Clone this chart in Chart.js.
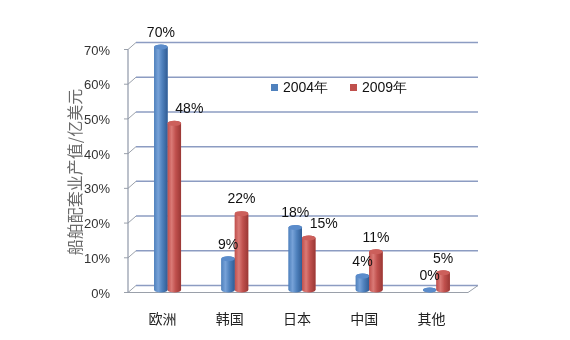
<!DOCTYPE html>
<html>
<head>
<meta charset="utf-8">
<script src="https://cdn.jsdelivr.net/npm/chart.js@4.4.1/dist/chart.umd.min.js"></script>
<style>
  html, body { margin: 0; padding: 0; background: #fff; }
  #wrap { width: 570px; height: 340px; }
</style>
</head>
<body>
<div id="wrap"><canvas id="chart"></canvas></div>
<script>
const regions = ['欧洲', '韩国', '日本', '中国', '其他'];
const share2004 = [70, 9, 18, 4, 0];
const share2009 = [48, 22, 15, 11, 5];
const seriesNames = ['2004年', '2009年'];
const yTicks = [0, 10, 20, 30, 40, 50, 60, 70];
const yTitle = '船舶配套业产值/亿美元';

// cylinder shading per series
const palettes = [
    { base: '#4f81bd', light: '#77a2d8', dark: '#305c94', cap: '#5b8ccb' },
    { base: '#c0504d', light: '#da7a76', dark: '#9a3835', cap: '#cc5f5b' },
];

const latin = 'Arial, "Liberation Sans", sans-serif';
const cjk = '"Noto Sans CJK SC", sans-serif';

// back wall, floor and front axis of the pseudo 3D box
const wallPlugin = {
    id: 'wall3d',
    beforeDatasetsDraw(chart) {
        const { ctx, chartArea: ca } = chart;
        const y = chart.scales.y;
        const axisX = ca.left - 6;
        const dx = 8, dy = 7;
        ctx.save();
        yTicks.forEach(v => {
            const front = y.getPixelForValue(v) + 2.5;
            const back = front - dy;
            ctx.lineWidth = 1.5;
            ctx.strokeStyle = '#8c9cc2';
            ctx.beginPath();
            ctx.moveTo(axisX + dx, back);
            ctx.lineTo(ca.right + 8, back);
            ctx.stroke();
            ctx.lineWidth = 1;
            ctx.strokeStyle = '#9aa0aa';
            ctx.beginPath();
            ctx.moveTo(axisX, front);
            ctx.lineTo(axisX + dx, back);
            ctx.stroke();
            // small tick left of the axis
            ctx.beginPath();
            ctx.moveTo(axisX - 4, front);
            ctx.lineTo(axisX, front);
            ctx.stroke();
            if (v === 0) {
                ctx.beginPath();
                ctx.moveTo(axisX, front);
                ctx.lineTo(ca.right - 2, front);
                ctx.lineTo(ca.right + 8, back);
                ctx.stroke();
            }
        });
        ctx.strokeStyle = '#8f98a8';
        ctx.lineWidth = 1.2;
        ctx.beginPath();
        ctx.moveTo(axisX, y.getPixelForValue(0) + 2.5);
        ctx.lineTo(axisX, y.getPixelForValue(70) + 2.5);
        ctx.stroke();
        ctx.restore();
    },
    afterDatasetsDraw(chart) {
        const { ctx } = chart;
        ctx.save();
        chart.data.datasets.forEach((ds, di) => {
            const pal = palettes[di];
            chart.getDatasetMeta(di).data.forEach(bar => {
                const { x, y: top, base, width } = bar.getProps(['x', 'y', 'base', 'width'], true);
                const l = x - width / 2, r = x + width / 2, rx = width / 2, ry = 2.5;
                const g = ctx.createLinearGradient(l, 0, r, 0);
                g.addColorStop(0, pal.base);
                g.addColorStop(0.3, pal.light);
                g.addColorStop(0.6, pal.base);
                g.addColorStop(1, pal.dark);
                ctx.fillStyle = g;
                ctx.beginPath();
                ctx.moveTo(l, top);
                ctx.lineTo(l, base);
                ctx.ellipse(x, base, rx, ry, 0, Math.PI, 0, true);
                ctx.lineTo(r, top);
                ctx.ellipse(x, top, rx, ry, 0, 0, Math.PI, true);
                ctx.closePath();
                ctx.fill();
                ctx.fillStyle = pal.cap;
                ctx.beginPath();
                ctx.ellipse(x, top, rx, ry, 0, 0, Math.PI * 2);
                ctx.fill();
            });
        });

        // value labels; a 2009 label steps aside when the 2004 bar beside it is taller
        ctx.fillStyle = '#111';
        ctx.font = '14px ' + latin;
        ctx.textAlign = 'center';
        ctx.textBaseline = 'middle';
        chart.data.datasets.forEach((ds, di) => {
            chart.getDatasetMeta(di).data.forEach((bar, i) => {
                let shift = 0;
                if (di === 1 && share2004[i] > share2009[i]) shift = 15;
                ctx.fillText(ds.data[i] + '%', bar.x + shift, bar.y - 14);
            });
        });

        // legend inside the plot
        ctx.font = '14px ' + latin;
        ctx.textAlign = 'left';
        const lx = [271, 350];
        seriesNames.forEach((name, i) => {
            ctx.fillStyle = palettes[i].base;
            ctx.fillRect(lx[i], 84, 7, 7);
            ctx.fillStyle = '#111';
            ctx.fillText(name, lx[i] + 12, 88);
        });

        // vertical axis title
        ctx.translate(75, 172);
        ctx.rotate(-Math.PI / 2);
        ctx.font = '16px ' + cjk;
        ctx.fillStyle = '#6a6a6a';
        ctx.textAlign = 'center';
        ctx.fillText(yTitle, 0, 0);
        ctx.restore();
    }
};

new Chart(document.getElementById('chart'), {
    type: 'bar',
    data: {
        labels: regions,
        datasets: [
            { label: seriesNames[0], data: share2004, backgroundColor: palettes[0].base },
            { label: seriesNames[1], data: share2009, backgroundColor: palettes[1].base },
        ]
    },
    options: {
        responsive: true,
        maintainAspectRatio: false,
        animation: false,
        layout: { padding: { top: 47, right: 100, bottom: 8, left: 0 } },
        datasets: { bar: { categoryPercentage: 0.4, barPercentage: 1.0 } },
        plugins: { legend: { display: false }, tooltip: { enabled: false } },
        scales: {
            x: {
                grid: { display: false },
                border: { display: false },
                afterFit: s => { s.height = 42; },
                ticks: {
                    labelOffset: -5,
                    padding: 12,
                    color: '#222',
                    font: { family: cjk, size: 14 }
                }
            },
            y: {
                min: 0,
                max: 70,
                grid: { display: false },
                border: { display: false },
                afterFit: s => { s.width = 134; },
                ticks: {
                    stepSize: 10,
                    padding: 16,
                    labelOffset: 4,
                    color: '#333',
                    font: { family: latin, size: 13 },
                    callback: v => v + '%'
                }
            }
        }
    },
    plugins: [wallPlugin]
});
</script>
</body>
</html>
